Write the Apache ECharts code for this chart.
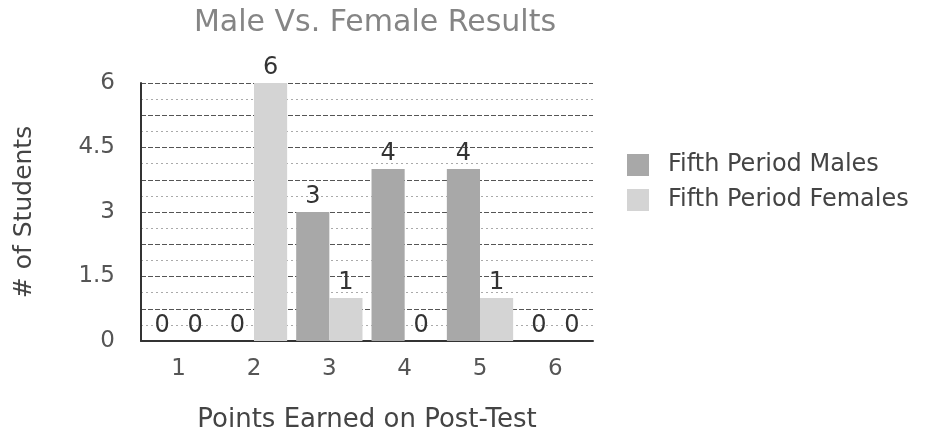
<!DOCTYPE html>
<html>
<head>
<meta charset="utf-8">
<script src="https://cdn.jsdelivr.net/npm/echarts@6/dist/echarts.min.js"></script>
<style>
  html, body { margin: 0; padding: 0; background: #fff; }
  #chart { width: 935px; height: 439px; }
</style>
</head>
<body>
<div id="chart"></div>
<script>
// Points earned on the post-test (categories)
const categories = ['1', '2', '3', '4', '5', '6'];
// Number of students per score
const males = [0, 0, 3, 4, 4, 0];
const females = [0, 6, 1, 0, 1, 0];
const seriesNames = ['Fifth Period Males', 'Fifth Period Females'];

const font = 'DejaVu Sans, Verdana, sans-serif';

const chart = echarts.init(document.getElementById('chart'));

const valueLabel = {
  show: true,
  position: 'top',
  distance: 3,
  fontFamily: font,
  fontSize: 24,
  color: '#333'
};

chart.setOption({
  animation: false,
  title: {
    text: 'Male Vs. Female Results',
    left: 370,
    textAlign: 'center',
    top: 3,
    textStyle: { fontFamily: font, fontSize: 30, fontWeight: 'normal', color: '#858585' }
  },
  legend: {
    orient: 'vertical',
    left: 622,
    top: 148,
    icon: 'rect',
    itemWidth: 22,
    itemHeight: 22,
    itemGap: 11,
    textStyle: { fontFamily: font, fontSize: 24, color: '#444', padding: [0, 0, 0, 14] },
    data: seriesNames
  },
  grid: { left: 141, right: 342, top: 83, bottom: 98 },
  xAxis: {
    type: 'category',
    data: categories,
    name: 'Points Earned on Post-Test',
    nameLocation: 'middle',
    nameGap: 66,
    nameTextStyle: { fontFamily: font, fontSize: 26, color: '#444' },
    axisLine: { lineStyle: { color: '#333', width: 2 } },
    axisTick: { show: false },
    axisLabel: { fontFamily: font, fontSize: 23, color: '#555', margin: 17 }
  },
  yAxis: {
    type: 'value',
    min: 0,
    max: 6,
    interval: 0.75,
    name: '# of Students',
    nameLocation: 'middle',
    nameGap: 104,
    nameTextStyle: { fontFamily: font, fontSize: 25, color: '#444' },
    axisLine: { show: true, lineStyle: { color: '#333', width: 2 } },
    axisTick: { show: false },
    axisLabel: {
      fontFamily: font, fontSize: 23, color: '#555', margin: 26,
      formatter: v => (Math.abs(v / 1.5 - Math.round(v / 1.5)) < 1e-6 ? String(v) : '')
    },
    splitLine: { lineStyle: { color: '#555', type: [5, 2], width: 1.2 } },
    minorTick: { show: false, splitNumber: 2 },
    minorSplitLine: { show: true, lineStyle: { color: '#aaa', type: [2, 3], width: 1 } }
  },
  series: [
    {
      name: seriesNames[0],
      type: 'bar',
      data: males,
      barGap: '0%',
      barCategoryGap: '12%',
      itemStyle: { color: '#a8a8a8' },
      label: valueLabel
    },
    {
      name: seriesNames[1],
      type: 'bar',
      data: females,
      itemStyle: { color: '#d4d4d4' },
      label: valueLabel
    }
  ]
});
</script>
</body>
</html>
